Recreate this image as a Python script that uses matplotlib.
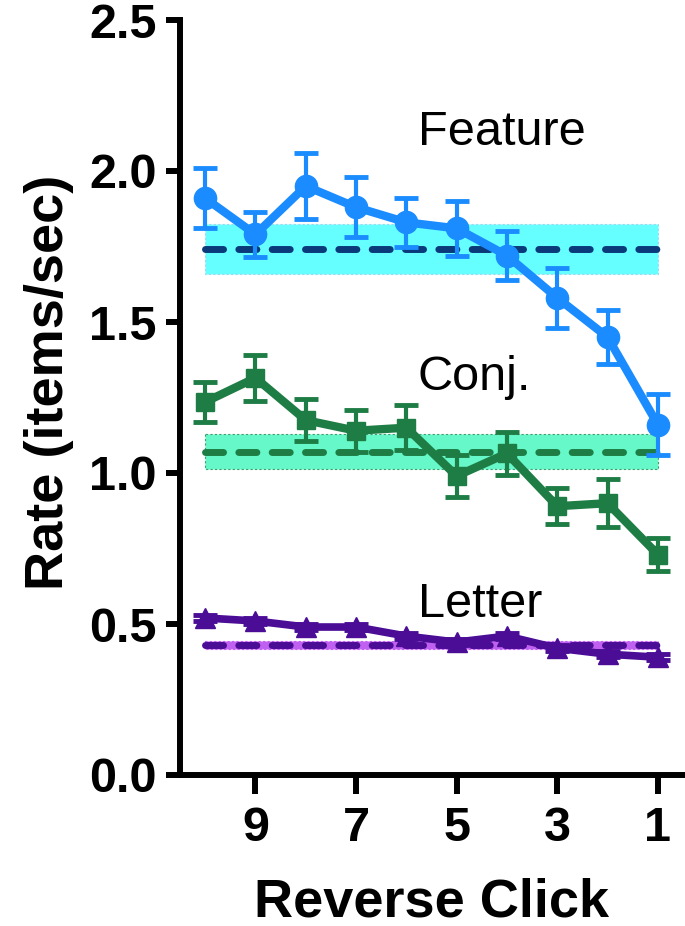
import matplotlib
matplotlib.use("Agg")
import matplotlib.pyplot as plt
import numpy as np

plt.rcParams['font.family'] = ['Liberation Sans', 'DejaVu Sans']

clicks = [10, 9, 8, 7, 6, 5, 4, 3, 2, 1]

feature = [1.91, 1.79, 1.95, 1.88, 1.83, 1.81, 1.72, 1.58, 1.45, 1.16]
feature_err = [0.10, 0.075, 0.11, 0.10, 0.08, 0.09, 0.08, 0.10, 0.09, 0.10]
conj = [1.235, 1.315, 1.175, 1.14, 1.15, 0.99, 1.065, 0.89, 0.90, 0.73]
conj_err = [0.065, 0.075, 0.07, 0.07, 0.075, 0.07, 0.07, 0.06, 0.08, 0.055]
letter = [0.52, 0.51, 0.49, 0.49, 0.46, 0.44, 0.46, 0.42, 0.40, 0.39]
letter_err = [0.01, 0.01, 0.01, 0.01, 0.01, 0.01, 0.01, 0.01, 0.01, 0.01]

feature_mean, feature_ci = 1.742, 0.084
conj_mean, conj_ci = 1.07, 0.058
letter_mean, letter_ci = 0.43, 0.014

labels = ["Feature", "Conj.", "Letter"]
label_y = [2.086, 1.275, 0.523]

yticks = [0.0, 0.5, 1.0, 1.5, 2.0, 2.5]
xticks = [9, 7, 5, 3, 1]

c_feat = '#1a8cff'
c_feat_mean = '#0a3a7a'
c_feat_band = '#66ffff'
c_conj = '#1e7d45'
c_conj_band = '#66f8c8'
c_let = '#4b0c96'
c_let_band = '#c060f0'

fig = plt.figure(figsize=(6.85, 9.26), dpi=100)
ax = fig.add_axes([180/685, 1-775/926, 503/685, 755/926])

x0, x1 = clicks[0], clicks[-1]
for m, ci, bc, ec, lc in [
    (feature_mean, feature_ci, c_feat_band, '#9fd6f0', c_feat_mean),
    (conj_mean, conj_ci, c_conj_band, '#3aa070', c_conj),
    (letter_mean, letter_ci, c_let_band, c_let_band, c_let),
]:
    ax.fill_between([x0, x1], [m - ci] * 2, [m + ci] * 2, facecolor=bc, lw=0.8,
                    edgecolor=ec, linestyle=(0, (2, 2)), zorder=1)
    ax.plot([x0, x1], [m, m], color=lc, lw=5, linestyle=(0, (2.6, 2.2)),
            dash_capstyle='round', solid_capstyle='round', zorder=2)

common = dict(elinewidth=3, capsize=8.5, capthick=3.5, zorder=3)
ax.errorbar(clicks, feature, yerr=feature_err, color=c_feat, marker='o',
            markersize=16, lw=6, **common)
ax.errorbar(clicks, conj, yerr=conj_err, color=c_conj, marker='s',
            markersize=13.5, lw=6, **common)
ax.errorbar(clicks, letter, yerr=letter_err, color=c_let, marker='^',
            markersize=14, lw=5.5, **common)

for t, yy in zip(labels, label_y):
    ax.text(5.77, yy, t, fontsize=35, ha='left', va='baseline', color='black')

ax.set_xlim(10.5, 0.5)
ax.set_ylim(0, 2.5)
ax.set_xticks(xticks)
ax.set_yticks(yticks)
ax.set_yticklabels([f"{v:.1f}" for v in yticks])

for s in ['top', 'right']:
    ax.spines[s].set_visible(False)
for s in ['left', 'bottom']:
    ax.spines[s].set_linewidth(4.3)
    ax.spines[s].set_capstyle('projecting')
ax.tick_params(axis='y', length=10, width=4.3, pad=7, labelsize=35)
ax.tick_params(axis='x', length=14, width=4.3, pad=8, labelsize=35)
for lab in ax.get_xticklabels() + ax.get_yticklabels():
    lab.set_fontweight('heavy')

ax.set_xlabel("Reverse Click", fontsize=39, fontweight='heavy')
ax.set_ylabel("Rate (items/sec)", fontsize=39, fontweight='heavy')
ax.xaxis.set_label_coords(0.5, -0.136)
ax.yaxis.set_label_coords(-0.21, 0.52)

fig.savefig("out.png", dpi=100)
